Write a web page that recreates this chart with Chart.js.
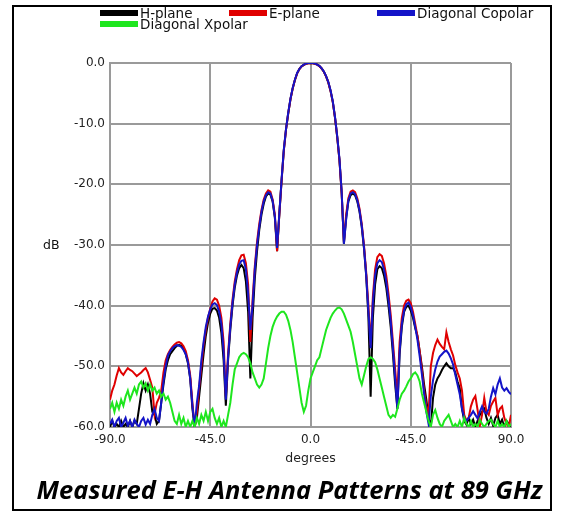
<!DOCTYPE html>
<html><head><meta charset="utf-8">
<script src="https://cdn.jsdelivr.net/npm/chart.js@4.4.1/dist/chart.umd.min.js"></script>
<style>
html,body{margin:0;padding:0;background:#fff;width:563px;height:515px;overflow:hidden}
#wrap{position:relative;width:563px;height:515px}
#c{position:absolute;left:0;top:0}
#frame{position:absolute;left:12px;top:5px;width:540px;height:506px;border:2px solid #000;box-sizing:border-box;pointer-events:none}
.lg{position:absolute;font:13.5px "DejaVu Sans",Verdana,sans-serif;color:#111;white-space:nowrap;line-height:14px}
.sw{position:absolute;width:38px;height:6px}
#dB{position:absolute;left:43px;top:237px;font:12.5px "DejaVu Sans",Verdana,sans-serif;color:#111}
#cap{position:absolute;left:0;width:563px;top:472px;text-align:center;font-family:"Open Sans",sans-serif;font-style:italic;font-weight:700;color:#000;white-space:nowrap}
</style></head>
<body><div id="wrap"><canvas id="c" width="563" height="515"></canvas><div id="legend"></div><div id="dB">dB</div><div id="cap">Measured E-H Antenna Patterns at 89 GHz</div><div id="frame"></div></div>
<script>
// ---- data (angle in degrees, level in dB) ----
const angles = [
-90,-89,-88,-87,-86,-85,-84,-83,-82,-81,
-80,-79,-78,-77,-76,-75,-74,-73,-72,-71,
-70,-69,-68,-67,-66,-65,-64,-63,-62,-61,
-60,-59,-58,-57,-56,-55,-54,-53,-52,-51,
-50,-49,-48,-47,-46,-45,-44,-43,-42,-41,
-40,-39,-38,-37,-36,-35,-34,-33,-32,-31,
-30,-29,-28,-27,-26,-25,-24,-23,-22,-21,
-20,-19,-18,-17,-16,-15,-14,-13,-12,-11,
-10,-9,-8,-7,-6,-5,-4,-3,-2,-1,
0,1,2,3,4,5,6,7,8,9,
10,11,12,13,14,15,16,17,18,19,
20,21,22,23,24,25,26,27,28,29,
30,31,32,33,34,35,36,37,38,39,
40,41,42,43,44,45,46,47,48,49,
50,51,52,53,54,55,56,57,58,59,
60,61,62,63,64,65,66,67,68,69,
70,71,72,73,74,75,76,77,78,79,
80,81,82,83,84,85,86,87,88,89,90];

const hPlane = [
-60,-59,-60,-59.5,-60,-59,-60,-59.5,-60,-59,
-60,-59,-59.5,-57,-54.5,-52.8,-54,-53,-54.5,-57.5,
-58,-59.5,-59,-56,-53,-50.5,-49,-48,-47.5,-47,
-46.6,-46.5,-46.6,-47,-48,-49.5,-52,-57,-60,-58.5,
-55,-51.5,-48,-45,-42.8,-41.3,-40.5,-40.4,-40.8,-42,
-44.5,-49,-56.5,-49,-44,-40,-37,-35,-33.8,-33.3,
-33.8,-36,-41,-52,-42,-35.5,-31,-27.5,-25,-23.2,
-22,-21.5,-21.7,-22.8,-25.5,-31,-25,-19.5,-14.5,-11,
-8.3,-6,-4.2,-2.8,-1.7,-1,-0.55,-0.3,-0.12,-0.03,
0,-0.03,-0.12,-0.28,-0.5,-0.9,-1.45,-2.2,-3.2,-4.6,
-6.4,-9,-12.2,-16,-21.5,-29.8,-25.5,-22.8,-21.8,-21.5,
-21.8,-22.8,-24.5,-27,-30.5,-35,-42,-55,-42,-36.5,
-34,-33.5,-33.8,-35,-37,-40,-43.5,-48,-53,-57,
-48,-43.5,-41,-40.2,-40,-40.8,-42,-43.7,-45,-47.5,
-50,-53,-55.5,-58.5,-60,-55.2,-53,-52,-51.4,-50.6,
-50,-49.5,-50,-50.3,-50.3,-51,-52.5,-53.6,-57,-59,
-59.6,-58.5,-59.5,-58.8,-60,-59,-58,-57.5,-57,-58.5,
-59.5,-58.5,-59.8,-58.5,-58,-59.5,-58.8,-60,-59,-59.5,-60];

const ePlane = [
-55.5,-54,-53,-51.5,-50.3,-51,-51.4,-50.8,-50.3,-50.6,
-50.8,-51.2,-51.6,-51.3,-51,-50.6,-50.3,-51,-52.2,-53.5,
-57.9,-56,-55.2,-54,-51,-49,-48,-47.3,-46.8,-46.4,
-46.1,-46,-46.2,-46.7,-47.5,-49,-51.5,-56,-60,-57.5,
-53.5,-50,-46.5,-44,-42,-40.5,-39.3,-38.8,-39,-40,
-42,-46,-55,-48,-43,-39,-36,-34,-32.5,-31.7,
-31.6,-33,-36.5,-46,-39,-33.5,-29.5,-26.5,-24.2,-22.5,
-21.5,-21,-21.2,-22.5,-25,-31,-25,-19.5,-14.5,-11,
-8.3,-6,-4.2,-2.8,-1.7,-1,-0.55,-0.3,-0.12,-0.03,
0,-0.03,-0.12,-0.28,-0.5,-0.9,-1.45,-2.2,-3.2,-4.6,
-6.4,-9,-12.2,-16,-21.5,-29.5,-25,-22.3,-21.2,-21,
-21.3,-22.3,-24,-26.5,-30,-34.5,-40,-46.5,-38.5,-34,
-32,-31.5,-31.8,-33,-35,-38,-41.5,-46,-50.5,-55,
-46,-42,-40,-39.2,-39,-39.6,-41,-43,-45,-47.5,
-50.5,-54,-56.5,-58,-50,-47.8,-46.5,-45.6,-46.3,-46.8,
-47.2,-44.4,-46,-47.2,-48.2,-49.8,-51,-52,-54,-58,
-59,-58.5,-56.6,-55.5,-54.9,-57.2,-59.8,-58,-55.2,-57.5,
-58,-56.5,-55.8,-55.2,-58,-57,-56.6,-58.5,-59.5,-60,-58];

const diagCopolar = [
-59.5,-58.8,-60,-59,-58.5,-60,-59.3,-58.5,-59.8,-59,
-60,-58.8,-59.5,-60,-59,-58.5,-59.6,-58.8,-59.5,-58,
-57,-58.5,-59,-56,-52.5,-50,-48.2,-47.5,-47,-46.7,
-46.5,-46.6,-46.8,-47.3,-48,-49.3,-52,-56.5,-60,-56,
-53.2,-49,-46,-43.5,-41.8,-40.6,-39.8,-39.6,-39.9,-41,
-43,-47.5,-55.5,-48.5,-43.5,-39.5,-36.5,-34.5,-33.2,-32.6,
-32.5,-34,-38,-44,-40,-34,-30,-27,-24.5,-22.8,
-21.8,-21.3,-21.5,-22.7,-25.3,-30.5,-24.8,-19.3,-14.3,-10.9,
-8.2,-5.9,-4.1,-2.75,-1.65,-0.98,-0.53,-0.28,-0.1,-0.02,
0,-0.02,-0.1,-0.27,-0.48,-0.88,-1.4,-2.15,-3.15,-4.5,
-6.3,-8.9,-12.1,-15.8,-21.3,-29.8,-25.8,-22.6,-21.5,-21.3,
-21.6,-22.6,-24.3,-26.8,-30.3,-35,-41,-47,-39.5,-35,
-33,-32.5,-32.8,-34,-36,-39,-42.5,-47,-52,-57,
-47.5,-43,-40.8,-39.8,-39.5,-40.2,-41.6,-43.5,-45.6,-48.3,
-51.3,-54.5,-57.5,-59.5,-55,-52.3,-50.5,-49.2,-48.4,-48,
-47.6,-47.4,-47.9,-48.7,-49.7,-51.4,-53,-54.6,-57,-58.5,
-59,-58.5,-58,-57.4,-58,-58.6,-57.5,-56.6,-57.5,-57.8,
-57,-55,-53.6,-54.6,-53,-52,-53.5,-54,-53.6,-54.2,-54.6];

const diagXpolar = [
-57,-56,-57.5,-56,-57,-55.5,-56.5,-55,-54,-55.5,
-54.5,-53.5,-54.5,-53,-52.5,-53.5,-52.8,-54,-53,-54,
-53.5,-54.5,-54,-55,-54.5,-55.5,-55,-56,-57.5,-59,
-59.5,-58,-59.5,-58.5,-60,-59,-60,-59,-60,-58.5,
-59.5,-58,-59,-57.5,-59,-57.5,-57,-58.5,-59.5,-58.5,
-60,-59,-60,-58,-56,-53,-50.5,-49.5,-48.5,-48,
-47.8,-48,-48.5,-49.5,-51,-52,-53,-53.5,-53,-52,
-49.5,-47,-45,-43.5,-42.5,-41.8,-41.3,-41,-41,-41.5,
-42.5,-44,-46,-48.5,-51,-53.5,-56,-57.5,-56.5,-54,
-52,-51,-50,-49,-48.5,-47,-45.5,-44,-43,-42,
-41.3,-40.8,-40.4,-40.3,-40.6,-41.3,-42.3,-43.3,-44.3,-46,
-48,-50,-52,-53,-51.5,-50,-48.8,-48.5,-48.8,-49.3,
-50.5,-52,-53.5,-55,-56.5,-58,-58.5,-58,-58.3,-57,
-55.5,-54.5,-54,-53.3,-52.5,-52,-51.3,-51,-51.5,-52.5,
-54.5,-56,-57.5,-59,-60,-58,-57.2,-58.5,-59.5,-60,
-59,-58.5,-58,-59,-60,-59.5,-60,-59,-60,-58.5,
-59.5,-60,-59,-60,-59.5,-60,-58.8,-59.5,-60,-59.5,
-59,-58.8,-59.5,-60,-59,-60,-59.5,-60,-59,-60,-59.5];

const seriesNames = ['H-plane','E-plane','Diagonal Copolar','Diagonal Xpolar'];
const seriesColors = ['#000000','#e00000','#1414c8','#1ee61e'];
const xTickValues = [-90,-45,0,45,90];
const xTickLabels = ['-90.0','-45.0','0.0','-45.0','90.0'];
const yTickValues = [0,-10,-20,-30,-40,-50,-60];
const yTickLabels = ['0.0','-10.0','-20.0','-30.0','-40.0','-50.0','-60.0'];
const xTitle = 'degrees';

// ---- chart ----
const seriesData = [hPlane, ePlane, diagCopolar, diagXpolar];
const drawOrder = [3,2,1,0];
const datasets = seriesData.map((arr,k)=>({
  label: seriesNames[k],
  data: angles.map((a,i)=>({x:a,y:arr[i]})),
  borderColor: seriesColors[k],
  backgroundColor: seriesColors[k],
  borderWidth: 2,
  pointRadius: 0,
  tension: 0,
  order: drawOrder[k]
}));

const tickFont = {family:'"DejaVu Sans", Verdana, sans-serif', size:12};
new Chart(document.getElementById('c'), {
  type:'line',
  data:{datasets},
  options:{
    responsive:false, animation:false, devicePixelRatio:1,
    layout:{padding:{left:0,top:63,right:52,bottom:49}},
    plugins:{legend:{display:false}, title:{display:false}, tooltip:{enabled:false}},
    scales:{
      x:{type:'linear', min:-90, max:90,
         afterFit:s=>{s.height=39;},
         afterBuildTicks:s=>{s.ticks = xTickValues.map(v=>({value:v}));},
         ticks:{autoSkip:false, maxRotation:0, padding:6, color:'#222', font:tickFont,
                callback:(v)=>{const i=xTickValues.indexOf(v); return i>=0?xTickLabels[i]:'';}},
         grid:{color:'#9a9a9a', lineWidth:2, drawTicks:false},
         border:{color:'#9a9a9a', width:2},
         title:{display:true, text:xTitle, color:'#222', font:{family:'"DejaVu Sans", Verdana, sans-serif', size:12.5}, padding:0}
      },
      y:{type:'linear', min:-60, max:0,
         afterFit:s=>{s.width=110;},
         afterBuildTicks:s=>{s.ticks = yTickValues.map(v=>({value:v}));},
         ticks:{padding:5, color:'#222', font:tickFont,
                callback:(v)=>{const i=yTickValues.indexOf(v); return i>=0?yTickLabels[i]:'';}},
         grid:{color:'#9a9a9a', lineWidth:2, drawTicks:false},
         border:{color:'#9a9a9a', width:2}
      }
    }
  }
});

// ---- legend (HTML) ----
const legendPos = [[100,10],[229,10],[377,10],[100,21]];
const lg = document.getElementById('legend');
seriesNames.forEach((n,k)=>{
  const sw=document.createElement('div'); sw.className='sw';
  sw.style.left=legendPos[k][0]+'px'; sw.style.top=legendPos[k][1]+'px'; sw.style.background=seriesColors[k];
  lg.appendChild(sw);
  const t=document.createElement('div'); t.className='lg'; t.textContent=n;
  t.style.left=(legendPos[k][0]+40)+'px'; t.style.top=(legendPos[k][1]-4)+'px';
  lg.appendChild(t);
});

// ---- caption fitted to width ----
const cap=document.getElementById('cap');
const mc=document.createElement('canvas').getContext('2d');
mc.font='italic 700 100px "Open Sans"';
const w100=mc.measureText(cap.textContent).width;
cap.style.fontSize=(100*506/w100).toFixed(2)+'px';
cap.style.left='8px';
</script>
</body></html>
